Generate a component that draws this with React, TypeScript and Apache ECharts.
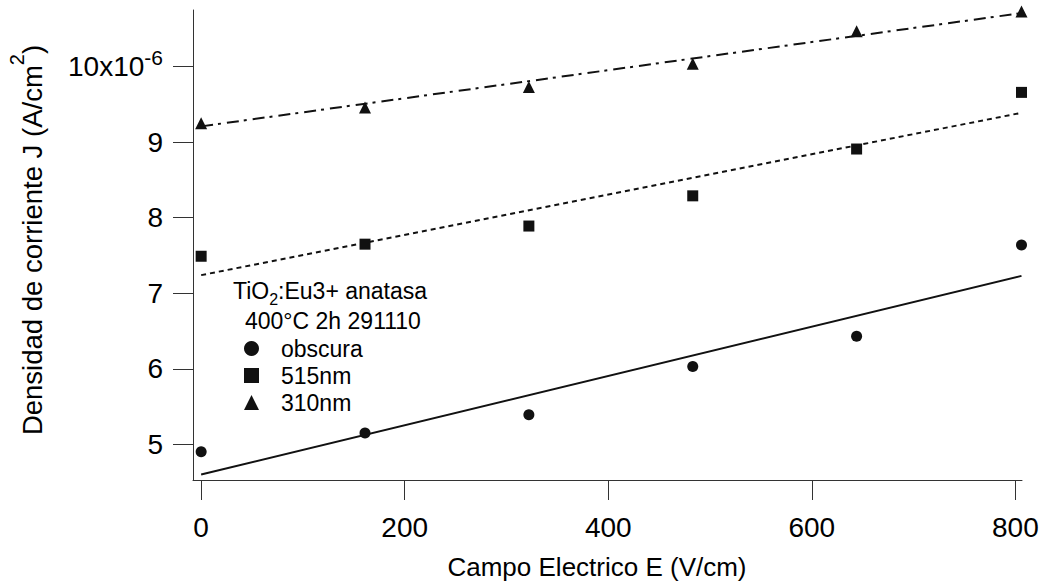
import React, { useEffect, useRef } from 'react';
import * as echarts from 'echarts';

// Electric field (V/cm)
const fieldE = [0, 161, 322, 483, 644, 806];
// Current density J (x10^-6 A/cm^2)
const obscura = [4.9, 5.15, 5.39, 6.03, 6.43, 7.64];
const nm515 = [7.49, 7.65, 7.89, 8.29, 8.91, 9.66];
const nm310 = [9.25, 9.46, 9.73, 10.04, 10.47, 10.73];
// Linear fit end points
const fitX = [0, 806];
const fitObscura = [4.6, 7.23];
const fit515 = [7.24, 9.39];
const fit310 = [9.21, 10.71];
// Ticks
const xTicks = [0, 200, 400, 600, 800];
const yTicks = [5, 6, 7, 8, 9, 10];
const seriesNames = ['obscura', '515nm', '310nm'];
const legendTitle1 = ['TiO', '2', ':Eu3+ anatasa'];
const legendTitle2 = '400°C 2h 291110';
const xName = 'Campo Electrico E (V/cm)';
const yNameMain = 'Densidad de corriente J (A/cm';

const FONT = "'Liberation Sans', Arial, Helvetica, sans-serif";
const INK = '#111111';
const AXIS = '#333333';

export default function App() {
  const ref = useRef<HTMLDivElement>(null);
  useEffect(() => {
    document.body.style.margin = '0';
    if (!ref.current) return;
    const chart = echarts.init(ref.current, null, { renderer: 'svg' });
    const pairs = (xs: number[], ys: number[]) => xs.map((x, i) => [x, ys[i]]);
    const option: any = {
      animation: false,
      backgroundColor: '#ffffff',
      textStyle: { fontFamily: FONT, color: '#000' },
      grid: { left: 193, top: 10, right: 21, bottom: 108, containLabel: false, outerBoundsMode: 'none' },
      xAxis: {
        type: 'value',
        min: -8,
        max: 806.5,
        axisLine: { show: true, onZero: false, lineStyle: { color: AXIS, width: 1 } },
        axisTick: { show: true, inside: false, length: 20, customValues: xTicks, lineStyle: { color: AXIS, width: 1 } },
        axisLabel: { customValues: xTicks, fontSize: 28, color: '#000', margin: 33, fontFamily: FONT },
        splitLine: { show: false },
        name: xName,
        nameLocation: 'middle',
        nameGap: 74,
        nameTextStyle: { fontSize: 26, color: '#000', fontFamily: FONT, padding: [0, 21, 0, 0] },
      },
      yAxis: {
        type: 'value',
        min: 4.527,
        max: 10.751,
        axisLine: { show: true, onZero: false, lineStyle: { color: AXIS, width: 1 } },
        axisTick: { show: true, inside: false, length: 20, customValues: yTicks, lineStyle: { color: AXIS, width: 1 } },
        axisLabel: {
          customValues: yTicks,
          fontSize: 28,
          color: '#000',
          margin: 30,
          fontFamily: FONT,
          formatter: (v: number) => (Math.abs(v - 10) < 1e-9 ? '{m|10x10}{s|-6}' : '{m|' + String(v) + '}'),
          rich: {
            m: { fontSize: 28, lineHeight: 40, color: '#000', fontFamily: FONT },
            s: { fontSize: 21, lineHeight: 21, verticalAlign: 'top', color: '#000', fontFamily: FONT },
          },
        },
        splitLine: { show: false },
        name: '{m|' + yNameMain + '}{s|2}{m|)}',
        nameLocation: 'middle',
        nameRotate: 90,
        nameGap: 136,
        nameTextStyle: {
          color: '#000',
          fontFamily: FONT,
          padding: [0, 0, 0, 10],
          rich: {
            m: { fontSize: 27.5, lineHeight: 50, color: '#000', fontFamily: FONT },
            s: { fontSize: 20, lineHeight: 20, verticalAlign: 'top', color: '#000', fontFamily: FONT },
          },
        },
      },
      legend: {
        data: seriesNames,
        orient: 'vertical',
        left: 244,
        top: 337,
        padding: 0,
        itemWidth: 15,
        itemHeight: 15,
        itemGap: 4,
        selectedMode: false,
        itemStyle: { opacity: 1 },
        textStyle: { fontSize: 23, color: '#000', fontFamily: FONT, padding: [0, 0, 0, 17] },
      },
      graphic: [
        {
          type: 'text',
          x: 233,
          y: 291,
          silent: true,
          style: {
            text: '{m|' + legendTitle1[0] + '}{b|' + legendTitle1[1] + '}{m|' + legendTitle1[2] + '}',
            align: 'left',
            verticalAlign: 'middle',
            fill: '#000',
            font: '23px ' + FONT,
            rich: {
              m: { fontSize: 23, lineHeight: 32, fontFamily: FONT, fill: '#000' },
              b: { fontSize: 16, lineHeight: 16, verticalAlign: 'bottom', fontFamily: FONT, fill: '#000' },
            },
          },
        },
        {
          type: 'text',
          x: 245,
          y: 321,
          silent: true,
          style: {
            text: legendTitle2,
            align: 'left',
            verticalAlign: 'middle',
            fill: '#000',
            font: '23px ' + FONT,
          },
        },
      ],
      series: [
        {
          type: 'line',
          name: 'fit obscura',
          data: pairs(fitX, fitObscura),
          symbol: 'none',
          silent: true,
          lineStyle: { color: INK, width: 2, type: 'solid' },
          z: 1,
        },
        {
          type: 'line',
          name: 'fit 515nm',
          data: pairs(fitX, fit515),
          symbol: 'none',
          silent: true,
          lineStyle: { color: INK, width: 2, type: [5, 4] },
          z: 1,
        },
        {
          type: 'line',
          name: 'fit 310nm',
          data: pairs(fitX, fit310),
          symbol: 'none',
          silent: true,
          lineStyle: { color: INK, width: 2, type: [12, 5, 3, 6] },
          z: 1,
        },
        {
          type: 'scatter',
          name: seriesNames[0],
          data: pairs(fieldE, obscura),
          symbol: 'circle',
          symbolSize: 11,
          itemStyle: { color: INK, opacity: 1 },
          z: 3,
        },
        {
          type: 'scatter',
          name: seriesNames[1],
          data: pairs(fieldE, nm515),
          symbol: 'rect',
          symbolSize: 11,
          itemStyle: { color: INK, opacity: 1 },
          z: 3,
        },
        {
          type: 'scatter',
          name: seriesNames[2],
          data: pairs(fieldE, nm310),
          symbol: 'triangle',
          symbolSize: 12,
          itemStyle: { color: INK, opacity: 1 },
          z: 3,
        },
      ],
    };
    chart.setOption(option);
    return () => chart.dispose();
  }, []);
  return <div ref={ref} style={{ width: 1043, height: 588 }} />;
}
